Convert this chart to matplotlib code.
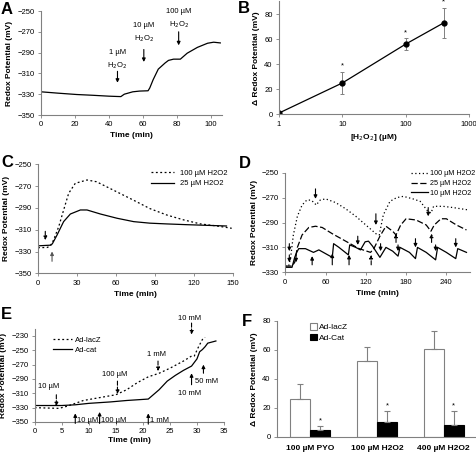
import numpy as np
import matplotlib.pyplot as plt

plt.rcParams['font.family'] = ['Liberation Sans', 'DejaVu Sans']

# ---- panel A : stepwise H2O2 additions
a_time = [0, 10, 21, 30, 40, 45, 47, 49, 54, 58, 63, 64, 66, 69, 73, 75, 78, 82, 86, 92, 98, 101.6, 105.5]
a_redox = [-327.7, -329, -330.3, -331, -331.9, -332.2, -332.3, -330, -327.7, -327, -326.7, -324,
           -316, -305.9, -300, -297.5, -296.3, -296.3, -290.6, -285, -281, -280, -280.7]

# ---- panel B : dose response
b_conc = [1, 10, 100, 400]
b_delta = [1, 25, 56, 73]
b_err = [0, 9, 5, 12]

# ---- panel C
c_time_100 = [0, 7, 9.5, 12, 16, 19.7, 23.6, 28.7, 37.7, 45, 58, 73.6, 86, 99, 112, 125, 137.7, 149]
c_100 = [-326.5, -326.3, -325, -319.4, -307, -292, -276.6, -267.4, -264.4, -266, -273.7, -283,
         -290.6, -296.5, -301, -304.7, -306.6, -308.7]
c_time_25 = [0, 9.5, 11, 14.6, 19.7, 24.9, 32.6, 37.7, 48, 60.8, 73.6, 86, 99, 114.6, 130, 145]
c_25 = [-324.8, -324.2, -323, -315, -302.6, -295.6, -291.9, -291.9, -295.6, -299.5, -302.6,
        -304, -304.7, -305.4, -306, -306.6]

# ---- panel D
d_time_100 = [0, 5, 8, 12, 18, 25, 32, 38, 43, 46, 52, 60, 75, 90, 105, 120, 135, 140, 146, 156,
              166, 176, 190, 201, 211, 217, 221, 235, 250, 262, 274]
d_100 = [-325, -325, -318, -300, -285, -276, -272, -272, -274, -276, -272, -271, -274, -279, -285,
         -292, -299, -300, -284, -273, -270, -269, -271, -273, -280, -282.5, -277, -277, -278, -279, -280]
d_time_25 = [0, 10, 14, 18, 25, 35, 45, 55, 70, 90, 110, 127, 132, 141, 150, 160, 165, 172, 180,
             195, 210, 217, 222, 232, 240, 255, 270]
d_25 = [-325, -325, -322, -310, -300, -294, -293, -294, -299, -305, -311, -314, -311, -301, -293,
        -297, -300, -292, -287, -288, -292, -297, -292, -287, -287, -292, -296]
d_time_10 = [0, 10, 14, 17, 20, 30, 38, 42, 50, 60, 70, 72, 80, 94, 96, 105, 112, 119, 124, 130,
             141, 150, 160, 168, 171, 185, 194, 197, 210, 224, 227, 240, 254, 257, 270]
d_10 = [-326, -326, -318, -314, -311, -311, -313, -314, -312, -315, -318, -307, -310, -316, -308,
        -310, -312, -305.5, -305, -309, -318, -310, -313, -317, -310, -314, -319, -310, -314, -320,
        -310, -314, -319, -311, -314]

# ---- panel E
e_time_lacz = [0, 4.5, 6, 9, 12, 15, 17, 19, 21, 23, 25, 27.5, 29, 29.5, 30.3, 31, 31.5]
e_lacz = [-330, -331, -328, -320, -316, -312, -305, -295, -287, -282, -275, -265, -258, -258,
          -245, -235, -232]
e_time_cat = [0, 5, 7.5, 10, 14, 17, 21, 23, 24.5, 26, 27.5, 29, 30, 30.5, 31, 31.5, 32, 33, 33.5]
e_cat = [-327, -327, -326, -324, -322, -320, -318, -305, -293, -285, -278, -272, -262, -252,
         -249, -245, -240, -238, -237]

# ---- panel F
f_groups = ['100 µM PYO', '100 µM H2O2', '400 µM H2O2']
f_lacz = [25.7, 52.2, 60.5]
f_lacz_err = [10.6, 9.4, 12.4]
f_cat = [4.4, 9.9, 8.0]
f_cat_err = [3.2, 7.8, 9.7]

GREY = '#808080'
TS = 5.5
LS = 6


def style(ax):
    for s in ['top', 'right']:
        ax.spines[s].set_visible(False)
    for s in ['left', 'bottom']:
        ax.spines[s].set_color(GREY)
        ax.spines[s].set_linewidth(0.8)
    ax.tick_params(direction='out', length=2.5, width=0.6, color=GREY, labelsize=TS, pad=2)


def arrow(ax, x, y0, y1, ls='-', color='k'):
    ax.annotate('', xy=(x, y1), xytext=(x, y0),
                arrowprops=dict(arrowstyle='-|>', lw=0.8, ls=ls, color=color,
                                mutation_scale=5, shrinkA=0, shrinkB=0))


def px(l, t, r, b):
    W, H = 477, 457
    return [l / W, 1 - b / H, (r - l) / W, (b - t) / H]


fig = plt.figure(figsize=(4.77, 4.57), dpi=100)

# A
ax = fig.add_axes(px(41, 11, 222, 115))
style(ax)
ax.plot(a_time, a_redox, color='k', lw=0.9)
ax.set_xlim(0, 106.5)
ax.set_ylim(-350, -250)
ax.set_xticks(range(0, 101, 20))
ax.set_yticks(range(-350, -249, 20))
ax.set_xlabel('Time (min)', fontsize=LS, fontweight='bold', labelpad=3)
ax.set_ylabel('Redox Potential (mV)', fontsize=LS, fontweight='bold', labelpad=3)
for x, y0, y1, lab, ty in [(45, -308, -319, '1 µM\nH$_2$O$_2$', -297),
                           (60.5, -287, -299, '10 µM\nH$_2$O$_2$', -271),
                           (81, -270, -283, '100 µM\nH$_2$O$_2$', -258)]:
    arrow(ax, x, y0, y1)
    ax.text(x, ty, lab, ha='center', va='center', fontsize=TS, linespacing=1.6)

# B
ax = fig.add_axes(px(279, 1.5, 469, 114.3))
style(ax)
ax.errorbar(b_conc, b_delta, yerr=b_err, color='k', lw=0.9, marker='o', ms=3.5,
            ecolor=GREY, elinewidth=0.7, capsize=1.5, capthick=0.7)
ax.set_xscale('log')
ax.set_xlim(1, 1000)
ax.set_ylim(0, 90)
ax.set_yticks(range(0, 81, 20))
ax.set_xticks([1, 10, 100, 1000])
ax.set_xticklabels(['1', '10', '100', '1000'])
ax.minorticks_off()
for x, y, e in zip(b_conc[1:], b_delta[1:], b_err[1:]):
    ax.text(x, y + e + 1.5, '*', ha='center', va='bottom', fontsize=TS, clip_on=False)
ax.set_xlabel('[H$_2$O$_2$] (µM)', fontsize=LS, fontweight='bold', labelpad=3)
ax.set_ylabel('Δ Redox Potential (mV)', fontsize=LS, fontweight='bold', labelpad=3)

# C
ax = fig.add_axes(px(38, 164.3, 233, 273.3))
style(ax)
ax.plot(c_time_100, c_100, color='k', lw=0.9, ls=(0, (1.5, 2)), label='100 µM H2O2')
ax.plot(c_time_25, c_25, color='k', lw=0.9, label='25 µM H2O2')
ax.set_xlim(0, 150)
ax.set_ylim(-350, -250)
ax.set_xticks(range(0, 151, 30))
ax.set_yticks(range(-350, -249, 20))
arrow(ax, 5.6, -311.5, -319.5, ls='--')
arrow(ax, 10.8, -339, -330, color='#555555')
ax.set_xlabel('Time (min)', fontsize=LS, fontweight='bold', labelpad=3)
ax.set_ylabel('Redox Potential (mV)', fontsize=LS, fontweight='bold', labelpad=3)
ax.legend(loc='upper right', bbox_to_anchor=(1.0, 1.0), frameon=False, fontsize=TS,
          handlelength=3, labelspacing=0.4, borderpad=0.2)

# D
ax = fig.add_axes(px(285.3, 172.7, 470.5, 272.3))
style(ax)
ax.plot(d_time_100, d_100, color='k', lw=0.9, ls=(0, (1, 2)), label='100 µM H2O2')
ax.plot(d_time_25, d_25, color='k', lw=0.9, ls=(0, (5, 2)), label='25 µM H2O2')
ax.plot(d_time_10, d_10, color='k', lw=0.9, label='10 µM H2O2')
ax.set_xlim(0, 276)
ax.set_ylim(-330, -250)
ax.set_xticks(range(0, 241, 60))
ax.set_yticks(range(-330, -249, 20))
for x, y0, y1, ls in [(6, -307, -313, '-'), (6, -316, -322, '-'), (16, -316, -322, '-'),
                      (45, -263, -271, '-'), (108, -301, -308, '-'), (135, -283, -292, '-'),
                      (142, -307, -313, '-'), (168, -308, -313, '-'), (194, -303, -310, '-'),
                      (213, -278, -285, '-'), (224, -308, -313, '-'), (254, -303, -310, '-'),
                      (40, -324, -317, '-'), (70, -324, -315, '-'), (95, -324, -316, '-'),
                      (128, -324, -316, '--'), (165, -306, -299, '--'), (218, -306, -299, '--')]:
    arrow(ax, x, y0, y1, ls=ls)
ax.set_xlabel('Time (min)', fontsize=LS, fontweight='bold', labelpad=3)
ax.set_ylabel('Redox Potential (mV)', fontsize=LS, fontweight='bold', labelpad=3)
ax.legend(loc='upper left', bbox_to_anchor=(0.655, 1.07), frameon=False, fontsize=5.2,
          handlelength=2.3, labelspacing=0.4, borderpad=0.1, handletextpad=0.4)

# E
ax = fig.add_axes(px(34.7, 328.8, 224, 422))
style(ax)
ax.plot(e_time_lacz, e_lacz, color='k', lw=0.9, ls=(0, (1.5, 2)), label='Ad-lacZ')
ax.plot(e_time_cat, e_cat, color='k', lw=0.9, label='Ad-cat')
ax.set_xlim(0, 35)
ax.set_ylim(-350, -220)
ax.set_xticks(range(0, 36, 5))
ax.set_yticks(range(-350, -229, 20))
for x, y0, y1, lab, tx, ty, ha in [(4, -312, -328, '10 µM', 2.6, -300, 'center'),
                                   (15.3, -293, -311, '100 µM', 14.8, -284, 'center'),
                                   (22.8, -265, -279, '1 mM', 22.6, -256, 'center'),
                                   (29, -212, -228, '10 mM', 28.6, -205, 'center')]:
    arrow(ax, x, y0, y1, ls='--')
    ax.text(tx, ty, lab, ha=ha, va='center', fontsize=TS, clip_on=False)
for x, y0, y1, lab, tx, ty, ha in [(7.5, -352, -338, '10 µM', 7.8, -348, 'left'),
                                   (12, -352, -336, '100 µM', 12.3, -348, 'left'),
                                   (21, -353, -338, '1 mM', 21.4, -348, 'left'),
                                   (29, -298, -282, '10 mM', 28.6, -310, 'center'),
                                   (31.2, -282, -270, '50 mM', 31.8, -294, 'center')]:
    arrow(ax, x, y0, y1)
    ax.text(tx, ty, lab, ha=ha, va='center', fontsize=TS, clip_on=False)
ax.set_xlabel('Time (min)', fontsize=LS, fontweight='bold', labelpad=1.5)
ax.set_ylabel('Redox Potential (mV)', fontsize=LS, fontweight='bold', labelpad=3)
ax.legend(loc='upper left', bbox_to_anchor=(0.07, 0.97), frameon=False, fontsize=TS,
          handlelength=2.6, labelspacing=0.4, borderpad=0.1, handletextpad=0.4)

# F
ax = fig.add_axes(px(277, 320.7, 477, 436.7))
style(ax)
xg = np.arange(len(f_groups))
w = 0.3
ax.bar(xg - w / 2, f_lacz, w, color='white', edgecolor=GREY, lw=0.8, label='Ad-lacZ',
       yerr=[np.zeros(3), f_lacz_err], error_kw=dict(ecolor=GREY, elinewidth=0.8, capsize=2, capthick=0.8))
ax.bar(xg + w / 2, f_cat, w, color='black', edgecolor='black', lw=0.8, label='Ad-Cat',
       yerr=[np.zeros(3), f_cat_err], error_kw=dict(ecolor=GREY, elinewidth=0.8, capsize=2, capthick=0.8))
for x, y, e in zip(xg + w / 2, f_cat, f_cat_err):
    ax.text(x, y + e + 1, '*', ha='center', va='bottom', fontsize=TS)
ax.set_xlim(-0.5, 2.5)
ax.set_ylim(0, 80)
ax.set_yticks(range(0, 81, 20))
ax.set_xticks(xg)
ax.set_xticklabels(f_groups, fontweight='bold', fontsize=LS)
ax.tick_params(axis='x', length=0, pad=6)
ax.set_ylabel('Δ Redox Potential (mV)', fontsize=LS, fontweight='bold', labelpad=3)
ax.legend(loc='upper left', bbox_to_anchor=(0.14, 1.02), frameon=False, fontsize=TS + 0.5,
          handlelength=0.8, handleheight=0.8, labelspacing=0.3, borderpad=0.1, handletextpad=0.3)

for lab, x, y in [('A', 1, 2), ('B', 238, 1), ('C', 1, 155), ('D', 239, 156), ('E', 1, 307), ('F', 242, 314)]:
    fig.text(x / 477, 1 - y / 457, lab, fontsize=12, fontweight='bold', va='top', ha='left')

fig.savefig('out.png', dpi=100)
